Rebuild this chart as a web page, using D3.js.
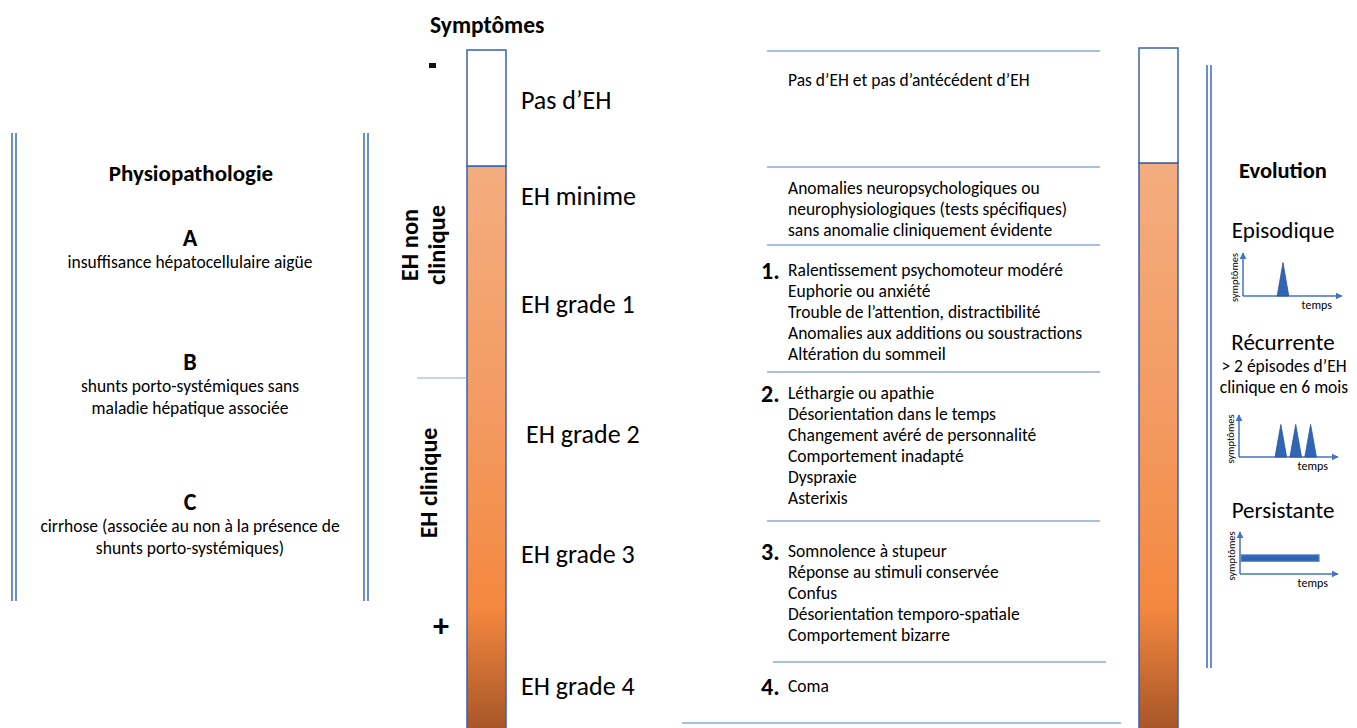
<!DOCTYPE html>
<html>
<head>
<meta charset="utf-8">
<script src="https://cdn.jsdelivr.net/npm/d3@7"></script>
<style>
  body { margin: 0; background: #fff; }
  svg { display: block; font-family: Carlito, Calibri, Lato, "Open Sans", sans-serif; }
</style>
</head>
<body>
<div id="chart"></div>
<script>
// --- data ---
const physioTitle = "Physiopathologie";
const physioLetters = ["A", "B", "C"];
const physioTexts = [
    ["insuffisance hépatocellulaire aigüe"],
    ["shunts porto-systémiques sans", "maladie hépatique associée"],
    ["cirrhose (associée au non à la présence de", "shunts porto-systémiques)"]
];

const gradeLabels = ["Pas d\u2019EH", "EH minime", "EH grade 1", "EH grade 2", "EH grade 3", "EH grade 4"];
const gradeNumbers = ["", "", "1.", "2.", "3.", "4."];
const gradeDescriptions = [
    ["Pas d\u2019EH et pas d\u2019antécédent d\u2019EH"],
    ["Anomalies neuropsychologiques ou", "neurophysiologiques (tests spécifiques)", "sans anomalie cliniquement évidente"],
    ["Ralentissement psychomoteur modéré", "Euphorie ou anxiété", "Trouble de l\u2019attention, distractibilité", "Anomalies aux additions ou soustractions", "Altération du sommeil"],
    ["Léthargie ou apathie", "Désorientation dans le temps", "Changement avéré de personnalité", "Comportement inadapté", "Dyspraxie", "Asterixis"],
    ["Somnolence à stupeur", "Réponse au stimuli conservée", "Confus", "Désorientation temporo-spatiale", "Comportement bizarre"],
    ["Coma"]
];
const groupLabels = [["EH non", "clinique"], ["EH clinique"]];

const evolutionTitle = "Evolution";
const evolutionTypes = ["Episodique", "Récurrente", "Persistante"];
const evolutionSubtitles = [[], ["> 2 épisodes d\u2019EH", "clinique en 6 mois"], []];
// peaks: time of centre on a 0-10 time axis, height on a 0-1 symptom axis
const episodicPeaks = [4.3];
const recurrentPeaks = [4.5, 6.1, 7.7];
const peakWidth = 1.25;
const peakHeight = 0.88;
const persistentBand = [0.1, 8.6, 0.34, 0.52]; // start, end, low, high

// --- layout ---
const W = 1357, H = 728;
const blue = "#4472C4", lineBlue = "#8EA9DB", border = "#3A62A8";

const svg = d3.select("#chart").append("svg")
    .attr("width", W)
    .attr("height", H);

const defs = svg.append("defs");
const grad = defs.append("linearGradient")
    .attr("id", "sev")
    .attr("x1", 0).attr("y1", 0).attr("x2", 0).attr("y2", 1);
grad.append("stop").attr("offset", "0%").attr("stop-color", "#F3AD7F");
grad.append("stop").attr("offset", "45%").attr("stop-color", "#F39A61");
grad.append("stop").attr("offset", "78%").attr("stop-color", "#F4883F");
grad.append("stop").attr("offset", "100%").attr("stop-color", "#A65528");

function doubleLine(x, y1, y2) {
    [0, 4].forEach(dx => {
        svg.append("line")
            .attr("x1", x + dx).attr("x2", x + dx)
            .attr("y1", y1).attr("y2", y2)
            .attr("stroke", blue).attr("stroke-width", 1.6);
    });
}

// left panel
doubleLine(12, 133, 601);
doubleLine(364, 133, 601);

svg.append("text")
    .attr("x", 191).attr("y", 181)
    .attr("text-anchor", "middle")
    .attr("font-size", 23).attr("font-weight", "bold")
    .text(physioTitle);

const physioY = [246, 370, 510];
physioLetters.forEach((l, i) => {
    svg.append("text")
        .attr("x", 190).attr("y", physioY[i])
        .attr("text-anchor", "middle")
        .attr("font-size", 24).attr("font-weight", "bold")
        .text(l);
    physioTexts[i].forEach((t, j) => {
        svg.append("text")
            .attr("x", 190).attr("y", physioY[i] + 22 + j * 22)
            .attr("text-anchor", "middle")
            .attr("font-size", 17.5)
            .text(t);
    });
});

// symptoms column
svg.append("text")
    .attr("x", 430).attr("y", 33)
    .attr("font-size", 23.5).attr("font-weight", "bold")
    .text("Symptômes");
svg.append("rect")
    .attr("x", 429).attr("y", 63).attr("width", 7).attr("height", 5)
    .attr("fill", "#111");
svg.append("text")
    .attr("x", 441).attr("y", 637)
    .attr("text-anchor", "middle")
    .attr("font-size", 32).attr("font-weight", "bold")
    .text("+");

function severityBar(x, yTop, ySplit) {
    svg.append("rect")
        .attr("x", x).attr("y", ySplit).attr("width", 39).attr("height", H - ySplit + 4)
        .attr("fill", "url(#sev)").attr("stroke", border).attr("stroke-width", 1.5);
    svg.append("rect")
        .attr("x", x).attr("y", yTop).attr("width", 39).attr("height", ySplit - yTop)
        .attr("fill", "#fff").attr("stroke", border).attr("stroke-width", 1.5);
}
severityBar(467, 50, 166);
severityBar(1139, 48, 163);

// group separator and rotated labels
svg.append("line")
    .attr("x1", 417).attr("x2", 467).attr("y1", 378).attr("y2", 378)
    .attr("stroke", lineBlue).attr("stroke-width", 1);

const g1 = svg.append("text")
    .attr("transform", "translate(418,245) rotate(-90)")
    .attr("text-anchor", "middle")
    .attr("font-size", 24.5).attr("font-weight", "bold");
groupLabels[0].forEach((t, i) => {
    g1.append("tspan").attr("x", 0).attr("y", i * 27).text(t);
});
svg.append("text")
    .attr("transform", "translate(437,483) rotate(-90)")
    .attr("text-anchor", "middle")
    .attr("font-size", 24).attr("font-weight", "bold")
    .text(groupLabels[1][0]);

// grade labels
const gradeY = [109, 205, 313, 443, 563, 695];
const gradeX = [521, 521, 521, 526, 521, 521];
gradeLabels.forEach((t, i) => {
    svg.append("text")
        .attr("x", gradeX[i]).attr("y", gradeY[i])
        .attr("font-size", 26)
        .text(t);
});

// description rows
const rules = [[767, 1100, 51], [767, 1100, 167], [767, 1100, 245], [767, 1100, 372],
               [767, 1100, 521], [773, 1106, 662], [682, 1121, 723]];
rules.forEach(r => {
    svg.append("line")
        .attr("x1", r[0]).attr("x2", r[1]).attr("y1", r[2]).attr("y2", r[2])
        .attr("stroke", lineBlue).attr("stroke-width", 1.3);
});
const descY = [86, 194, 276, 399, 557, 692];
gradeDescriptions.forEach((lines, i) => {
    if (gradeNumbers[i]) {
        svg.append("text")
            .attr("x", 761).attr("y", descY[i] + 3)
            .attr("font-size", 24).attr("font-weight", "bold")
            .text(gradeNumbers[i]);
    }
    lines.forEach((t, j) => {
        svg.append("text")
            .attr("x", 788).attr("y", descY[i] + j * 21)
            .attr("font-size", 17.5)
            .text(t);
    });
});

// evolution panel
doubleLine(1207, 65, 668);
svg.append("text")
    .attr("x", 1283).attr("y", 178)
    .attr("text-anchor", "middle")
    .attr("font-size", 22.5).attr("font-weight", "bold")
    .text(evolutionTitle);

const evoTitleY = [238, 350, 518];
evolutionTypes.forEach((t, i) => {
    svg.append("text")
        .attr("x", 1283).attr("y", evoTitleY[i])
        .attr("text-anchor", "middle")
        .attr("font-size", 23)
        .text(t);
    evolutionSubtitles[i].forEach((s, j) => {
        svg.append("text")
            .attr("x", 1284).attr("y", evoTitleY[i] + 22 + j * 21)
            .attr("text-anchor", "middle")
            .attr("font-size", 17.5)
            .text(s);
    });
});

defs.append("marker")
    .attr("id", "arrow")
    .attr("viewBox", "0 0 10 10")
    .attr("refX", 9).attr("refY", 5)
    .attr("markerWidth", 7).attr("markerHeight", 7)
    .attr("markerUnits", "userSpaceOnUse")
    .attr("orient", "auto")
    .append("path").attr("d", "M0,0L10,5L0,10Z").attr("fill", blue);

function miniChart(x0, yAxis, yTop, x1) {
    const x = d3.scaleLinear().domain([0, 10]).range([x0, x1 - 6]);
    const y = d3.scaleLinear().domain([0, 1]).range([yAxis, yTop + 5]);
    const g = svg.append("g");
    g.append("line")
        .attr("x1", x0).attr("x2", x0).attr("y1", yAxis).attr("y2", yTop)
        .attr("stroke", blue).attr("stroke-width", 1.5).attr("marker-end", "url(#arrow)");
    g.append("line")
        .attr("x1", x0).attr("x2", x1).attr("y1", yAxis).attr("y2", yAxis)
        .attr("stroke", blue).attr("stroke-width", 1.5).attr("marker-end", "url(#arrow)");
    g.append("text")
        .attr("transform", `translate(${x0 - 5},${(yAxis + yTop) / 2 + 3}) rotate(-90)`)
        .attr("text-anchor", "middle")
        .attr("font-size", 10.5)
        .text("symptômes");
    g.append("text")
        .attr("x", x1 - 10).attr("y", yAxis + 13)
        .attr("text-anchor", "end")
        .attr("font-size", 12)
        .text("temps");
    return { g, x, y };
}

function peaks(chart, list) {
    chart.g.selectAll("path.peak")
        .data(list)
        .join("path")
        .attr("class", "peak")
        .attr("d", d => d3.line()([
            [chart.x(d - peakWidth / 2), chart.y(0)],
            [chart.x(d), chart.y(peakHeight)],
            [chart.x(d + peakWidth / 2), chart.y(0)]
        ]) + "Z")
        .attr("fill", "#2E65B4").attr("stroke", "#2F5597").attr("stroke-width", 0.8);
}

const c1 = miniChart(1243, 296, 253, 1342);
peaks(c1, episodicPeaks);
const c2 = miniChart(1239, 457, 415, 1338);
peaks(c2, recurrentPeaks);
const c3 = miniChart(1240, 574, 532, 1338);
c3.g.append("rect")
    .attr("x", c3.x(persistentBand[0]))
    .attr("y", c3.y(persistentBand[3]))
    .attr("width", c3.x(persistentBand[1]) - c3.x(persistentBand[0]))
    .attr("height", c3.y(persistentBand[2]) - c3.y(persistentBand[3]))
    .attr("fill", "#2E65B4").attr("stroke", "#6F8FC9").attr("stroke-width", 1);
</script>
</body>
</html>
